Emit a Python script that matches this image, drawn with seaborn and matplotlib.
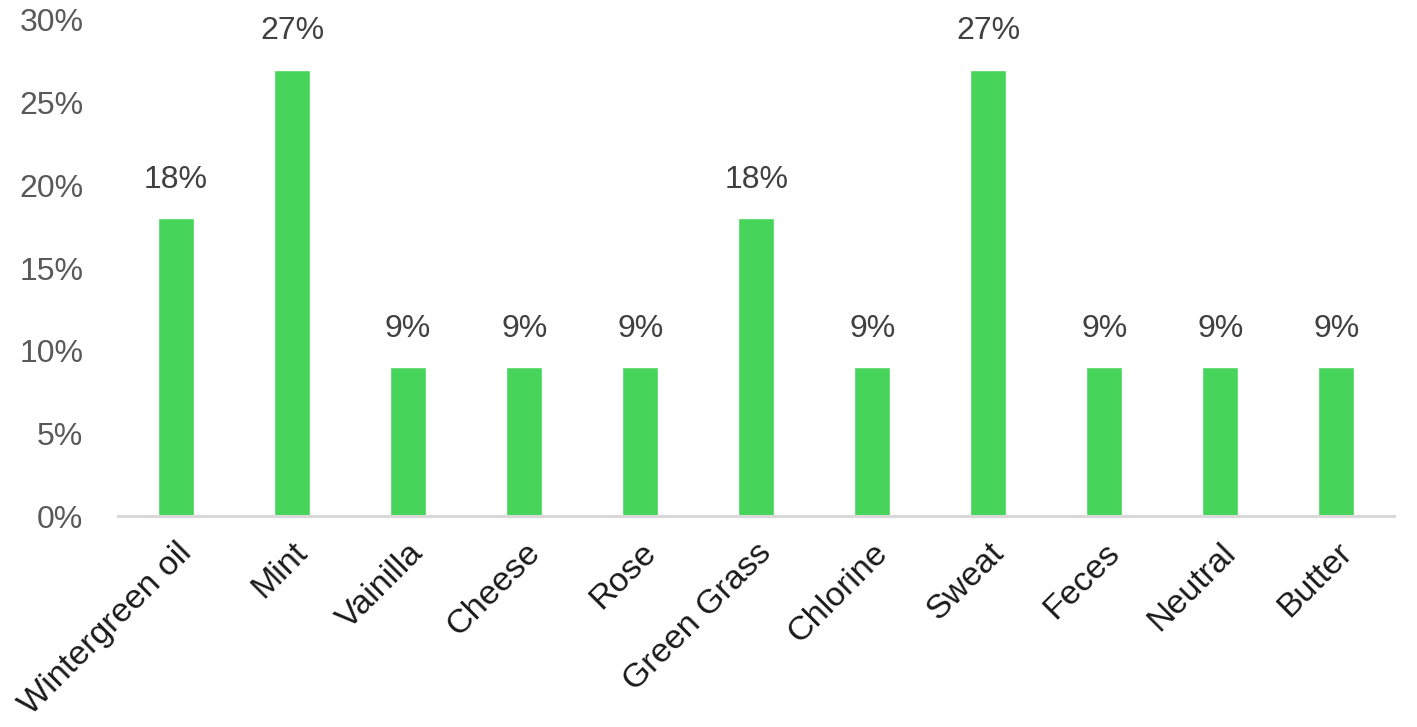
import matplotlib
matplotlib.use('Agg')
import matplotlib.pyplot as plt
import seaborn as sns
import pandas as pd
from matplotlib.ticker import PercentFormatter

# chart data
scents = ['Wintergreen oil', 'Mint', 'Vainilla', 'Cheese', 'Rose', 'Green Grass',
          'Chlorine', 'Sweat', 'Feces', 'Neutral', 'Butter']
shares = [0.18, 0.27, 0.09, 0.09, 0.09, 0.18, 0.09, 0.27, 0.09, 0.09, 0.09]
yticks = [0, 0.05, 0.10, 0.15, 0.20, 0.25, 0.30]

df = pd.DataFrame({'Scent': scents, 'Share': shares})

sns.set_style('white')
plt.rcParams['font.family'] = ['Liberation Sans', 'DejaVu Sans']

fig = plt.figure(figsize=(14.17, 7.27), dpi=100)
ax = fig.add_axes([0.0833, 0.29, 0.9007, 0.6825])

sns.barplot(data=df, x='Scent', y='Share', color='#47D45A', saturation=1,
            width=0.31, ax=ax)

text_color = '#404040'
for i, v in enumerate(shares):
    ax.annotate(f'{v * 100:.0f}%', (i, v), xytext=(0, 17), textcoords='offset points',
                ha='center', va='bottom', fontsize=23, color=text_color)

ax.set_ylim(0, 0.30)
ax.set_yticks(yticks)
ax.yaxis.set_major_formatter(PercentFormatter(1.0, decimals=0))
ax.set_xlim(-0.5, len(scents) - 0.5)
ax.set_xlabel('')
ax.set_ylabel('')

ax.tick_params(axis='y', labelsize=23, colors='#595959', length=0, pad=25)
ax.tick_params(axis='x', labelsize=24.5, colors='#1a1a1a', length=0, pad=15)
plt.setp(ax.get_xticklabels(), rotation=45, ha='right', rotation_mode='anchor')

for side in ['left', 'right', 'top']:
    ax.spines[side].set_visible(False)
ax.spines['bottom'].set_color('#D9D9D9')
ax.spines['bottom'].set_linewidth(2.2)

fig.savefig('out.png', dpi=100)
